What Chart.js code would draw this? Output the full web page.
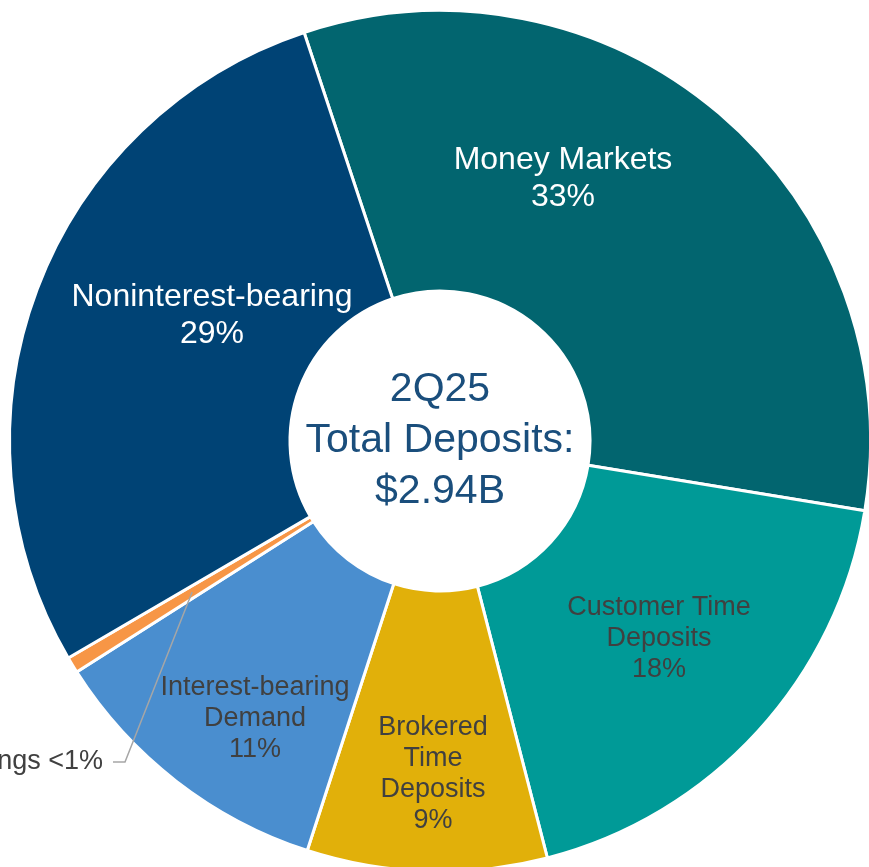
<!DOCTYPE html>
<html>
<head>
<meta charset="utf-8">
<script src="https://cdn.jsdelivr.net/npm/chart.js@4.4.1/dist/chart.umd.min.js"></script>
<style>
  html, body { margin: 0; padding: 0; background: #fff; overflow: hidden; }
  #wrap { position: absolute; left: 0; top: 0; width: 880px; height: 882px; }
</style>
</head>
<body>
<div id="wrap"><canvas id="chart" width="880" height="882"></canvas></div>
<script>
// Deposit mix, 2Q25 (share of total, %)
const categories = ['Money Markets', 'Customer Time Deposits', 'Brokered Time Deposits',
                    'Interest-bearing Demand', 'Borrowings', 'Noninterest-bearing'];
const shares = [32.7, 18.4, 9.0, 11.0, 0.6, 28.3];
const pctLabels = ['33%', '18%', '9%', '11%', '<1%', '29%'];
const labelLines = [
    ['Money Markets'],
    ['Customer Time', 'Deposits'],
    ['Brokered', 'Time', 'Deposits'],
    ['Interest-bearing', 'Demand'],
    ['Borrowings'],
    ['Noninterest-bearing']
];
const centerLines = ['2Q25', 'Total Deposits:', '$2.94B'];

const sliceColors = ['#02656F', '#009A97', '#E1B00A', '#4A8ECF', '#F79646', '#004375'];
const textColors = ['#FFFFFF', '#404040', '#404040', '#404040', '#404040', '#FFFFFF'];

// label block centre, offset from chart centre (px)
const labelOffsets = [[123, -262], [219, 198], [-7, 333], [-185, 278], null, [-228, -125]];

const sliceLabels = {
    id: 'sliceLabels',
    afterDatasetsDraw(chart) {
        const ctx = chart.ctx;
        const meta = chart.getDatasetMeta(0);
        const cx = meta.data[0].x;
        const cy = meta.data[0].y;
        ctx.save();
        ctx.textAlign = 'center';
        ctx.textBaseline = 'middle';

        meta.data.forEach((arc, i) => {
            const off = labelOffsets[i];
            if (!off) return;
            const lines = [...labelLines[i], pctLabels[i]];
            const big = textColors[i] === '#FFFFFF';
            const size = big ? 32 : 27;
            const lh = big ? 37 : 31;
            ctx.font = size + 'px "Liberation Sans", Arial, sans-serif';
            ctx.fillStyle = textColors[i];
            const top = cy + off[1] - (lines.length - 1) * lh / 2;
            lines.forEach((t, k) => ctx.fillText(t, cx + off[0], top + k * lh));
        });

        // Borrowings: outside label with leader line
        const mid = meta.data[4].getCenterPoint();
        const ly = cy + 321;
        ctx.strokeStyle = '#A6A6A6';
        ctx.lineWidth = 1.5;
        ctx.beginPath();
        ctx.moveTo(mid.x, mid.y);
        ctx.lineTo(cx - 315, ly);
        ctx.lineTo(cx - 327, ly);
        ctx.stroke();
        ctx.font = '27px "Liberation Sans", Arial, sans-serif';
        ctx.fillStyle = '#404040';
        ctx.textAlign = 'right';
        ctx.fillText(labelLines[4][0] + ' ' + pctLabels[4], cx - 337, ly);

        // centre title
        ctx.textAlign = 'center';
        ctx.font = '41px "Liberation Sans", Arial, sans-serif';
        ctx.fillStyle = '#1A4E7C';
        centerLines.forEach((t, k) => ctx.fillText(t, cx, cy - 51 + k * 51));
        ctx.restore();
    }
};

new Chart(document.getElementById('chart'), {
    type: 'doughnut',
    data: {
        labels: categories,
        datasets: [{
            data: shares,
            backgroundColor: sliceColors,
            borderColor: '#FFFFFF',
            borderWidth: 3
        }]
    },
    options: {
        responsive: false,
        animation: false,
        rotation: -18.4,
        cutout: 150,
        layout: { padding: 8 },
        plugins: {
            legend: { display: false },
            tooltip: { enabled: false }
        }
    },
    plugins: [sliceLabels]
});
</script>
</body>
</html>
